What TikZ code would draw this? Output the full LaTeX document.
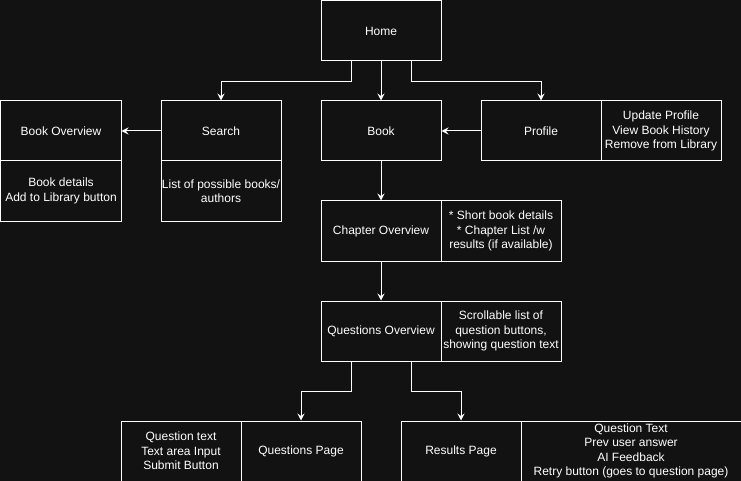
\documentclass[tikz,border=0pt]{standalone}
\usepackage{fontspec}
\setmainfont{Liberation Sans}
\usetikzlibrary{arrows.meta}
\definecolor{canvas}{HTML}{121212}
\begin{document}
\begin{tikzpicture}[x=1pt,y=-1pt,
  box/.style={draw=white, line width=1pt, text=white, anchor=north west,
    minimum width=120pt, minimum height=60pt, inner sep=0pt, align=center,
    font=\fontsize{12}{14.4}\selectfont},
  wide/.style={box, minimum width=220pt},
  link/.style={draw=white, line width=1pt,
    -{Stealth[length=7pt,width=7pt,inset=2.5pt]}}]
  % page background
  \fill[canvas] (-0.5,-0.5) rectangle (740.5,480.5);
  \useasboundingbox (-0.5,-0.5) rectangle (740.5,480.5);

  % top level
  \node[box] (home) at (320,0) {Home};

  % second row
  \node[box] (bookov) at (0,100) {Book Overview};
  \node[box] (bookovinfo) at (0,160) {Book details\\Add to Library button};
  \node[box] (search) at (160,100) {Search};
  \node[box] (searchinfo) at (160,160) {List of possible books/\\authors};
  \node[box] (book) at (320,100) {Book};
  \node[box] (profile) at (480,100) {Profile};
  \node[box] (profileinfo) at (600,100) {Update Profile\\View Book History\\Remove from Library};

  % chapters and questions
  \node[box] (chap) at (320,200) {Chapter Overview};
  \node[box] (chapinfo) at (440,200) {* Short book details\\* Chapter List /w\\results (if available)};
  \node[box] (qov) at (320,300) {Questions Overview};
  \node[box] (qovinfo) at (440,300) {Scrollable list of\\question buttons,\\showing question text};

  % bottom row
  \node[box] (qpageinfo) at (120,420) {Question text\\Text area Input\\Submit Button};
  \node[box] (qpage) at (240,420) {Questions Page};
  \node[box] (results) at (400,420) {Results Page};
  \node[wide] (resultsinfo) at (520,420) {Question Text\\Prev user answer\\AI Feedback\\Retry button (goes to question page)};

  % connectors
  \draw[link] ([xshift=-30pt]home.south) -- ++(0,20) -| (search.north);
  \draw[link] (home.south) -- (book.north);
  \draw[link] ([xshift=30pt]home.south) -- ++(0,20) -| (profile.north);
  \draw[link] (search.west) -- (bookov.east);
  \draw[link] (profile.west) -- (book.east);
  \draw[link] (book.south) -- (chap.north);
  \draw[link] (chap.south) -- (qov.north);
  \draw[link] ([xshift=-30pt]qov.south) -- ++(0,30) -| (qpage.north);
  \draw[link] ([xshift=30pt]qov.south) -- ++(0,30) -| (results.north);
\end{tikzpicture}
\end{document}
